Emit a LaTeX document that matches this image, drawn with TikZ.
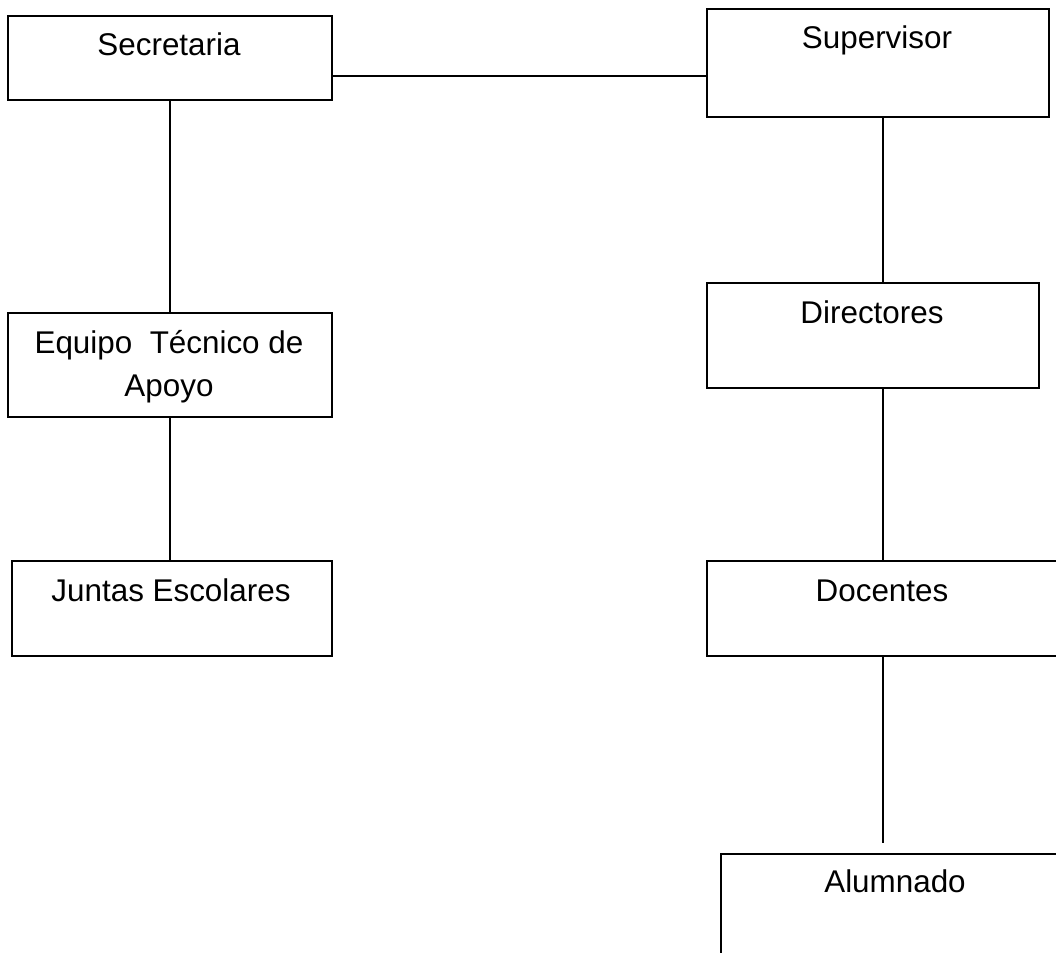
\documentclass[tikz,border=0pt]{standalone}
\usepackage{fontspec}
\setmainfont{Liberation Sans}
\begin{document}
\begin{tikzpicture}[x=1pt,y=-1pt,
  box/.style={draw, line width=1.3pt, inner sep=0pt, outer sep=0pt},
  lbl/.style={anchor=base, inner sep=0pt, align=center, font=\fontsize{31.4}{43}\selectfont},
  conn/.style={line width=1.3pt}]
\useasboundingbox (0,0) rectangle (1056,952);
% boxes
\node[box, minimum width=324pt, minimum height=84pt]    (sec) at (170,58) {};
\node[box, minimum width=342pt, minimum height=108pt]   (sup) at (878,63) {};
\node[box, minimum width=324pt, minimum height=104pt]   (eq)  at (170,365) {};
\node[box, minimum width=320pt, minimum height=95pt]    (jun) at (172,608.5) {};
\node[box, minimum width=332pt, minimum height=105pt]   (dir) at (873,335.5) {};
\node[box, minimum width=355pt, minimum height=95pt]    (doc) at (884.5,608.5) {};
\node[box, minimum width=341pt, minimum height=106pt]   (alu) at (891.5,907) {};
% texts
\node[lbl] (tsec) at (169,56) {Secretaria};
\node[lbl] (tsup) at (877,49) {Supervisor};
\node[lbl] (teq1) at (169,353) {Equipo\ \ Técnico de};
\node[lbl] (teq2) at (169,396) {Apoyo};
\node[lbl] (tjun) at (171,601) {Juntas Escolares};
\node[lbl] (tdir) at (872,323) {Directores};
\node[lbl] (tdoc) at (882,601) {Docentes};
\node[lbl] (talu) at (895,892) {Alumnado};
% helper coordinates
\coordinate (hy) at (0,76);
\coordinate (vx) at (883,0);
\coordinate (aluend) at (883,843);
% connectors
\draw[conn] (sec.east |- hy) -- (sup.west |- hy);
\draw[conn] (sec.south) -- (eq.north);
\draw[conn] (eq.south) -- (eq.south |- jun.north);
\draw[conn] (sup.south -| vx) -- (dir.north -| vx);
\draw[conn] (dir.south -| vx) -- (doc.north -| vx);
\draw[conn] (doc.south -| vx) -- (aluend);
\end{tikzpicture}
\end{document}
